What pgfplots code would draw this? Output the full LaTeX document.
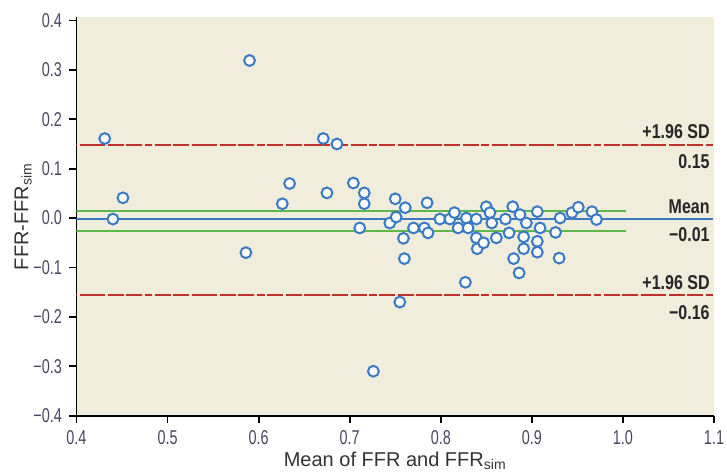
\documentclass[border=0pt]{standalone}
\usepackage{fontspec}
\setmainfont{Liberation Sans}
\newfontfamily\tickfont{Liberation Sans}[FakeStretch=0.72]
\newfontfamily\labfont{Liberation Sans}[FakeStretch=0.8]
\usepackage{pgfplots}
\pgfplotsset{compat=1.18}

\definecolor{bgcream}{RGB}{241,237,220}
\definecolor{ptblue}{RGB}{58,122,196}
\definecolor{sdred}{RGB}{192,48,42}
\definecolor{limgreen}{RGB}{92,184,74}
\definecolor{ticktext}{RGB}{72,70,96}

\begin{document}
\begin{tikzpicture}
\begin{axis}[
    scale only axis,
    width=318.75pt, height=199.1pt,
    xmin=0.4, xmax=1.1, ymin=-0.4, ymax=0.406,
    axis x line=bottom, axis y line=left,
    axis line style={-, line width=0.9pt, black},
    axis background/.style={fill=bgcream},
    tick align=outside, major tick length=3.8pt,
    tick style={line width=0.9pt, black},
    xtick={0.4,0.5,0.6,0.7,0.8,0.9,1.0,1.1},
    xticklabels={0.4,0.5,0.6,0.7,0.8,0.9,1.0,1.1},
    ytick={-0.4,-0.3,-0.2,-0.1,0,0.1,0.2,0.3,0.4},
    yticklabels={−0.4,−0.3,−0.2,−0.1,0.0,0.1,0.2,0.3,0.4},
    ticklabel style={font=\tickfont\fontsize{10}{11}\selectfont, text=ticktext},
    xlabel={Mean of FFR and FFR\textsubscript{sim}},
    ylabel={FFR-FFR\textsubscript{sim}},
    label style={font=\fontsize{10}{12}\selectfont, text=black!80},
    xlabel style={at={(axis description cs:0.5,-0.1276)}, anchor=base},
    ylabel style={at={(axis description cs:-0.0756,0.5)}, anchor=base},
    clip mode=individual,
]
% limits of agreement and mean
\addplot[sdred, line width=1pt, dash pattern=on 8pt off 1.25pt on 8pt off 1.25pt on 12.75pt off 1.25pt on 8pt off 1.25pt on 8pt off 1.25pt on 3.85pt off 1.25pt, dash phase=16.9pt]
  coordinates {(0.4,0.148) (1.099,0.148)};
\addplot[sdred, line width=1pt, dash pattern=on 8pt off 1.25pt on 8pt off 1.25pt on 12.75pt off 1.25pt on 8pt off 1.25pt on 8pt off 1.25pt on 3.85pt off 1.25pt, dash phase=16.9pt]
  coordinates {(0.4,-0.156) (1.099,-0.156)};
\addplot[limgreen, line width=1pt] coordinates {(0.4,0.014) (1.003,0.014)};
\addplot[limgreen, line width=1pt] coordinates {(0.4,-0.027) (1.003,-0.027)};
\addplot[ptblue, line width=1pt] coordinates {(0.4,-0.001) (1.099,-0.001)};

\addplot[only marks, mark=*, mark size=2.7pt,
  mark options={fill=white, draw=ptblue, line width=1pt}]
  coordinates {
  (0.431,0.161) (0.440,-0.002) (0.451,0.041) (0.586,-0.070) (0.590,0.319)
  (0.626,0.029) (0.634,0.070) (0.671,0.161) (0.675,0.051) (0.686,0.150)
  (0.704,0.071) (0.716,0.051) (0.716,0.029) (0.711,-0.020) (0.726,-0.310)
  (0.744,-0.010) (0.750,0.039) (0.751,0.002) (0.755,-0.170) (0.759,-0.041)
  (0.760,-0.082) (0.761,0.021) (0.770,-0.020) (0.782,-0.020) (0.785,0.031)
  (0.786,-0.030) (0.799,-0.002) (0.810,-0.002) (0.815,0.011) (0.819,-0.020)
  (0.827,-0.130) (0.828,0.000) (0.830,-0.020) (0.839,-0.002) (0.839,-0.040)
  (0.840,-0.062) (0.847,-0.050) (0.850,0.023) (0.854,0.011) (0.856,-0.010)
  (0.861,-0.040) (0.871,-0.002) (0.875,-0.030) (0.879,0.023) (0.880,-0.082)
  (0.886,-0.111) (0.887,0.007) (0.891,-0.038) (0.891,-0.062) (0.894,-0.010)
  (0.906,0.013) (0.906,-0.047) (0.906,-0.069) (0.909,-0.020) (0.926,-0.029)
  (0.930,-0.081) (0.931,0.000) (0.944,0.011) (0.951,0.022) (0.966,0.013)
  (0.971,-0.003)
  };

% annotations
\begin{scope}[every node/.style={inner sep=0pt, font=\labfont\bfseries\fontsize{10}{11}\selectfont, text=black!85}]
\node[anchor=south east, yshift=3pt] at (axis cs:1.0956,0.148) {+1.96 SD};
\node[anchor=north east, yshift=-4.5pt] at (axis cs:1.0956,0.148) {0.15};
\node[anchor=south east, yshift=2.2pt] at (axis cs:1.0956,-0.001) {Mean};
\node[anchor=north east, yshift=-4.5pt] at (axis cs:1.0956,-0.001) {−0.01};
\node[anchor=south east, yshift=2.4pt] at (axis cs:1.0956,-0.156) {+1.96 SD};
\node[anchor=north east, yshift=-5pt] at (axis cs:1.0956,-0.156) {−0.16};
\end{scope}
\coordinate (bl) at (rel axis cs:0,0);
\coordinate (tr) at (rel axis cs:1,1);
\end{axis}
\pgfresetboundingbox
\path ([shift={(-38.25pt,-28.15pt)}]bl) rectangle ([shift={(6.5pt,8.75pt)}]tr);
\end{tikzpicture}
\end{document}
